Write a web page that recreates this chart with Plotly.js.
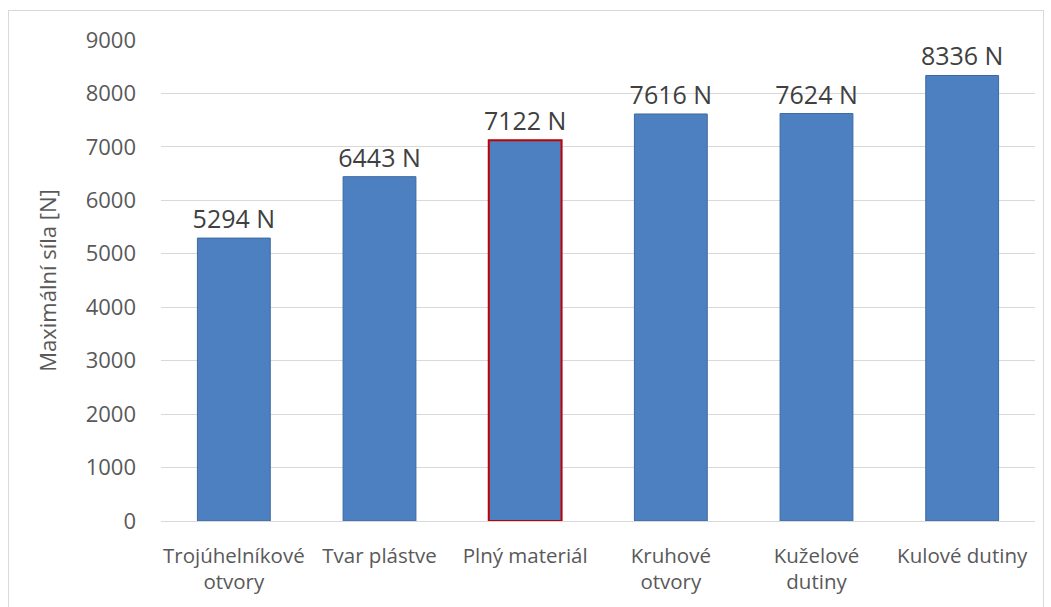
<!DOCTYPE html>
<html>
<head>
<meta charset="utf-8">
<script src="https://cdn.plot.ly/plotly-3.0.1.min.js"></script>
<style>
html,body{margin:0;padding:0;background:#fff;}
#frame{position:absolute;left:8px;top:10px;width:1034px;height:600px;border:1px solid #d9d9d9;}
#chart{position:absolute;left:0;top:0;width:1034px;height:600px;}
</style>
</head>
<body>
<div id="frame"><div id="chart"></div></div>
<script>
const categories = ["Trojúhelníkové<br>otvory", "Tvar plástve", "Plný materiál", "Kruhové<br>otvory", "Kuželové<br>dutiny", "Kulové dutiny"];
const values = [5294, 6443, 7122, 7616, 7624, 8336];
const labels = values.map(v => v + " N");
const yTicks = [0, 1000, 2000, 3000, 4000, 5000, 6000, 7000, 8000, 9000];
const highlightIndex = 2;

const lineColors = values.map((v, i) => i === highlightIndex ? "#c00000" : "#3d6a9f");
const lineWidths = values.map((v, i) => i === highlightIndex ? 2 : 1);

const trace = {
  type: "bar",
  x: categories,
  y: values,
  text: labels,
  textposition: "outside",
  constraintext: "none",
  cliponaxis: false,
  textfont: {family: "Open Sans, sans-serif", size: 25, color: "#404040"},
  marker: {color: "#4d80c0", line: {color: lineColors, width: lineWidths}},
  hoverinfo: "none"
};

const layout = {
  width: 1034, height: 600,
  margin: {l: 152, r: 8, t: 29, b: 90},
  paper_bgcolor: "rgba(0,0,0,0)",
  plot_bgcolor: "#fff",
  bargap: 0.5,
  showlegend: false,
  font: {family: "Open Sans, sans-serif", color: "#595959", size: 20},
  xaxis: {
    type: "category",
    showgrid: false,
    showline: false,
    ticks: "",
    ticklabelstandoff: 20,
    tickfont: {size: 20.5, color: "#595959"},
    zeroline: false
  },
  yaxis: {
    range: [0, 9000],
    tickvals: yTicks,
    ticktext: yTicks.map(String),
    showgrid: true,
    gridcolor: "#d9d9d9",
    gridwidth: 1,
    zeroline: true,
    zerolinecolor: "#d9d9d9",
    zerolinewidth: 1,
    showline: false,
    ticks: "",
    ticklabelstandoff: 24,
    tickfont: {size: 22, color: "#595959"},
    title: {text: "Maximální síla [N]", font: {size: 22, color: "#595959"}, standoff: 22}
  }
};

Plotly.newPlot("chart", [trace], layout, {displayModeBar: false, staticPlot: true});
</script>
</body>
</html>
